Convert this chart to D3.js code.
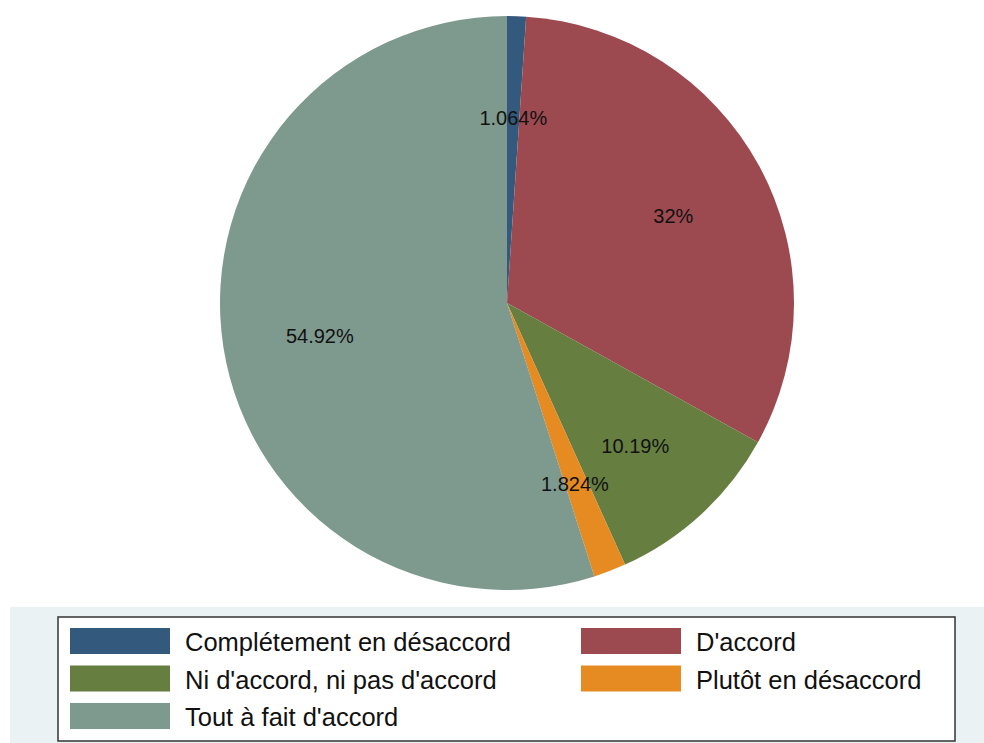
<!DOCTYPE html>
<html>
<head>
<meta charset="utf-8">
<script src="https://cdn.jsdelivr.net/npm/d3@7"></script>
<style>
  body { margin: 0; background: #fff; }
  text { font-family: "Liberation Sans", Arial, sans-serif; }
</style>
</head>
<body>
<div id="chart"></div>
<script>
var svgWidth = 984;
var svgHeight = 743;

// data, clockwise from 12 o'clock
var categories = ["Complétement en désaccord", "D'accord", "Ni d'accord, ni pas d'accord", "Plutôt en désaccord", "Tout à fait d'accord"];
var shares = [1.064, 32, 10.19, 1.824, 54.92];
var sliceLabels = ["1.064%", "32%", "10.19%", "1.824%", "54.92%"];
var colors = ["#33597c", "#9c4a50", "#667f41", "#e68a22", "#7e998e"];

var cx = 507, cy = 303, radius = 287;

var svg = d3.select("#chart")
  .append("svg")
    .attr("width", svgWidth)
    .attr("height", svgHeight);

// light band behind the legend
svg.append("rect")
  .attr("x", 10)
  .attr("y", 607)
  .attr("width", svgWidth - 10)
  .attr("height", svgHeight - 607)
  .attr("fill", "#eaf2f3");

var pieData = d3.pie().sort(null).value(d => d)(shares);

var arc = d3.arc().innerRadius(0).outerRadius(radius);
var labelArc = d3.arc().innerRadius(radius * 0.66).outerRadius(radius * 0.66);

var pieGroup = svg.append("g")
  .attr("transform", `translate(${cx}, ${cy})`);

pieGroup.selectAll("path")
  .data(pieData)
  .enter()
  .append("path")
  .attr("d", arc)
  .attr("fill", (d, i) => colors[i]);

pieGroup.selectAll("text")
  .data(pieData)
  .enter()
  .append("text")
  .attr("transform", d => `translate(${labelArc.centroid(d)})`)
  .attr("text-anchor", "middle")
  .attr("y", 4)
  .attr("dy", "0.35em")
  .attr("font-size", 20)
  .attr("fill", "#111")
  .text((d, i) => sliceLabels[i]);

// legend
var legend = svg.append("g");

legend.append("rect")
  .attr("x", 58)
  .attr("y", 617)
  .attr("width", 897)
  .attr("height", 124)
  .attr("fill", "#fff")
  .attr("stroke", "#333")
  .attr("stroke-width", 1.5);

var items = legend.selectAll("g.item")
  .data(categories)
  .enter()
  .append("g")
  .attr("class", "item")
  .attr("transform", (d, i) => `translate(${i % 2 === 0 ? 70 : 581}, ${628 + Math.floor(i / 2) * 37.5})`);

items.append("rect")
  .attr("width", 100)
  .attr("height", 26)
  .attr("fill", (d, i) => colors[i]);

items.append("text")
  .attr("x", 115)
  .attr("y", 14)
  .attr("dy", "0.36em")
  .attr("font-size", 25.5)
  .attr("fill", "#111")
  .text(d => d);
</script>
</body>
</html>
